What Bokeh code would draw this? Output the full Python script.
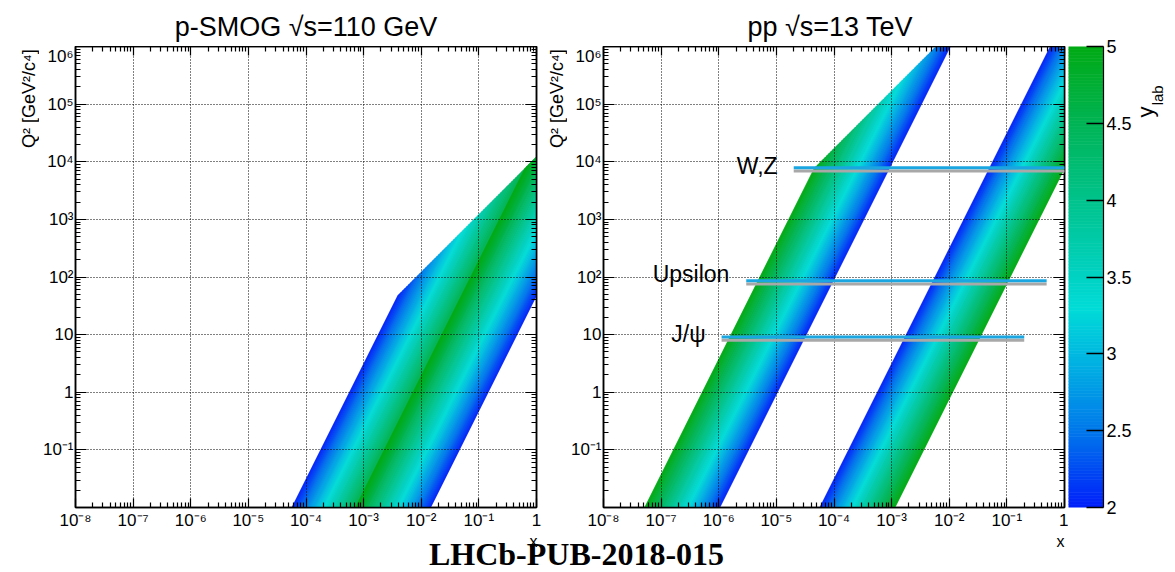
import numpy as np
from bokeh.plotting import figure
from bokeh.models import FixedTicker, LogAxis, Label, Range1d, ColumnDataSource
from bokeh.layouts import row, column
from bokeh.embed import file_html
from bokeh.resources import INLINE

# ---------------- data ----------------
panel_titles = ["p-SMOG \u221as=110 GeV", "pp  \u221as=13 TeV"]
sqrt_s_gev = [110.0, 13000.0]          # centre-of-mass energies
y_shift = [4.77, 0.0]                  # y_lab - y_cm (fixed target / collider)
y_lab_min, y_lab_max = 2.0, 5.0        # LHCb acceptance

x_major = [1e-8, 1e-7, 1e-6, 1e-5, 1e-4, 1e-3, 1e-2, 1e-1, 1.0]
x_labels = ["10\u207b\u2078", "10\u207b\u2077", "10\u207b\u2076", "10\u207b\u2075",
            "10\u207b\u2074", "10\u207b\u00b3", "10\u207b\u00b2", "10\u207b\u00b9", "1"]
q2_major = [1e-1, 1.0, 10.0, 1e2, 1e3, 1e4, 1e5, 1e6]
q2_labels = ["10\u207b\u00b9", "1", "10", "10\u00b2", "10\u00b3", "10\u2074", "10\u2075", "10\u2076"]

cbar_ticks = [2.0, 2.5, 3.0, 3.5, 4.0, 4.5, 5.0]
cbar_labels = ["2", "2.5", "3", "3.5", "4", "4.5", "5"]

res_names = ["J/\u03c8", "Upsilon", "W,Z"]
res_q2 = [9.1, 86.5, 7870.0]
res_x_min = [1.12e-6, 3.0e-6, 2.0e-5]
res_x_max = [0.2, 0.49, 1.0]
res_label_x = [5.9e-7, 1.53e-6, 1.05e-5]
res_label_q2 = [10.1, 111.0, 8510.0]

# colour palette stops (y_lab -> rgb)
stop_y = [2.0, 2.5, 3.0, 3.3, 3.5, 4.0, 4.5, 5.0]
stop_r = [0, 0, 0, 0, 0, 0, 0, 0]
stop_g = [30, 120, 185, 220, 210, 195, 180, 170]
stop_b = [250, 235, 225, 215, 195, 140, 85, 20]

FONT = "Liberation Sans"
ROW_H = 487
FULL_H = 533


def ycolor(v):
    r = int(round(np.interp(v, stop_y, stop_r)))
    g = int(round(np.interp(v, stop_y, stop_g)))
    b = int(round(np.interp(v, stop_y, stop_b)))
    return "#%02x%02x%02x" % (r, g, b)


def band_strips(sqrt_s, shift, sign, n=80):
    edges = np.linspace(y_lab_min, y_lab_max, n + 1)
    lnS = np.log(sqrt_s)
    lnMlo = 0.5 * np.log(1e-3)
    xs, ys, cs = [], [], []
    for a, b in zip(edges[:-1], edges[1:]):
        c0, c1 = a - shift, b - shift
        pts = [(c0, lnMlo), (c1, lnMlo), (c1, lnS - abs(c1))]
        if c0 < 0 < c1:
            pts.append((0.0, lnS))
        pts.append((c0, lnS - abs(c0)))
        xs.append([float(np.exp(m - lnS + sign * c)) for c, m in pts])
        ys.append([float(np.exp(2 * m)) for c, m in pts])
        cs.append(ycolor(0.5 * (a + b)))
    return xs, ys, cs


x_minor = [k * 10.0 ** e for e in range(-8, 0) for k in range(2, 10)]
q2_minor = [k * 10.0 ** e for e in range(-2, 6) for k in range(2, 10)]


def text_canvas(w, h):
    f = figure(width=w, height=h, x_range=Range1d(0, w), y_range=Range1d(0, h),
               min_border=0, toolbar_location=None, output_backend="svg",
               x_axis_location=None, y_axis_location=None)
    f.outline_line_color = None
    f.grid.visible = False
    return f


def style_axis(ax, tick_in):
    ax.axis_line_color = "black"
    ax.axis_line_width = 1.5
    ax.major_tick_in = tick_in
    ax.major_tick_out = 0
    ax.minor_tick_in = 5
    ax.minor_tick_out = 0
    ax.major_tick_line_color = "black"
    ax.minor_tick_line_color = "black"
    ax.major_tick_line_width = 1.2
    ax.minor_tick_line_width = 1.2
    ax.major_label_text_font = FONT
    ax.major_label_text_color = "black"
    ax.major_label_text_font_size = "17px"


def make_panel(i, width, border_left, border_right):
    p = figure(width=width, height=ROW_H, x_axis_type="log", y_axis_type="log",
               x_range=Range1d(1e-8, 1.0), y_range=Range1d(1e-2, 1e6),
               min_border_left=border_left, min_border_right=border_right,
               min_border_top=0, min_border_bottom=26,
               toolbar_location=None, output_backend="svg",
               background_fill_color="white", border_fill_color="white")
    p.outline_line_color = "black"
    p.outline_line_width = 1.5

    for sign in (+1, -1):
        xs, ys, cs = band_strips(sqrt_s_gev[i], y_shift[i], sign)
        src = ColumnDataSource(dict(xs=xs, ys=ys, c=cs))
        p.patches("xs", "ys", source=src, fill_color="c", line_color="c", line_width=0.7)

    xt = FixedTicker(ticks=x_major, minor_ticks=x_minor)
    yt = FixedTicker(ticks=q2_major, minor_ticks=q2_minor)

    xb = p.xaxis[0]
    yl = p.yaxis[0]
    xb.ticker = xt
    xb.major_label_overrides = {t: l for t, l in zip(x_major, x_labels)}
    yl.ticker = yt
    yl.major_label_overrides = {t: l for t, l in zip(q2_major, q2_labels)}
    style_axis(xb, 9)
    style_axis(yl, 11)
    xb.major_label_standoff = 3
    yl.major_label_standoff = 2

    top = LogAxis(ticker=xt, major_label_overrides={t: "" for t in x_major})
    right = LogAxis(ticker=yt, major_label_overrides={t: "" for t in q2_major})
    style_axis(top, 9)
    style_axis(right, 11)
    for ax in (top, right):
        ax.major_label_standoff = 0
        ax.major_label_text_font_size = "1px"
    p.add_layout(top, "above")
    p.add_layout(right, "right")

    p.xgrid.ticker = xt
    p.ygrid.ticker = yt
    p.grid.grid_line_color = "black"
    p.grid.grid_line_dash = "1 2"
    p.grid.grid_line_width = 1
    p.grid.level = "annotation"
    return p


def q2_label_canvas(w, xmid):
    f = text_canvas(w, ROW_H)
    f.add_layout(Label(x=xmid, y=ROW_H - 3, text="Q\u00b2 [GeV\u00b2/c\u2074]",
                       angle=np.pi / 2, text_align="right", text_baseline="middle",
                       text_font=FONT, text_font_size="18px", text_color="black"))
    return f


q1 = q2_label_canvas(39, 28.5)
p1 = make_panel(0, 506, 36, 9)
q2 = q2_label_canvas(22, 11.5)
p2 = make_panel(1, 501, 36, 4)

# resonance lines
shadow = 0.876
p2.segment(x0=res_x_min, y0=[q * shadow for q in res_q2], x1=res_x_max,
           y1=[q * shadow for q in res_q2], line_color="#a8a8a8", line_width=3, level="overlay")
p2.segment(x0=res_x_min, y0=res_q2, x1=res_x_max, y1=res_q2,
           line_color="#1aa6e0", line_width=3, level="overlay")
for name, lx, lq in zip(res_names, res_label_x, res_label_q2):
    p2.add_layout(Label(x=lx, y=lq, text=name, text_align="right", text_baseline="middle",
                        text_font=FONT, text_font_size="23px", text_color="black"))

# top strip with panel titles (above the two panels only)
pt = text_canvas(1068, 46)
for title, xc in zip(panel_titles, [305.5, 833.5]):
    pt.add_layout(Label(x=xc, y=20, text=title, text_align="center", text_baseline="middle",
                        text_font=FONT, text_font_size="27px", text_color="black"))

# colour bar panel
p3 = figure(width=66, height=FULL_H, x_range=Range1d(0, 1), y_range=Range1d(2, 5),
            min_border_left=0, min_border_right=30, min_border_top=46, min_border_bottom=26,
            toolbar_location=None, output_backend="svg", x_axis_location=None,
            y_axis_location="right")
p3.outline_line_color = None
p3.grid.visible = False
lev = np.linspace(y_lab_min, y_lab_max, 151)
lev_cols = [ycolor(0.5 * (a + b)) for a, b in zip(lev[:-1], lev[1:])]
p3.quad(left=0, right=1, bottom=lev[:-1], top=lev[1:],
        fill_color=lev_cols, line_color=lev_cols, line_width=0.7)
cax = p3.yaxis[0]
cax.ticker = FixedTicker(ticks=cbar_ticks, minor_ticks=[])
cax.major_label_overrides = {t: l for t, l in zip(cbar_ticks, cbar_labels)}
cax.major_tick_in = 17
cax.major_tick_out = 0
cax.major_tick_line_color = "black"
cax.major_tick_line_width = 1.5
cax.axis_line_color = "black"
cax.axis_line_width = 1.2
cax.major_label_text_font = FONT
cax.major_label_text_color = "black"
cax.major_label_text_font_size = "18px"
cax.major_label_standoff = 3

# y_lab title of the colour bar
py = text_canvas(41, FULL_H)
py.add_layout(Label(x=10.5, y=FULL_H - 82, text="y", angle=np.pi / 2, text_align="left",
                    text_baseline="middle", text_font=FONT, text_font_size="22px",
                    text_color="black"))
py.add_layout(Label(x=22.5, y=FULL_H - 68, text="lab", angle=np.pi / 2, text_align="left",
                    text_baseline="middle", text_font=FONT, text_font_size="15px",
                    text_color="black"))

# bottom strip with axis titles and document label
pb = text_canvas(1175, 39)
for xc in [533, 1060]:
    pb.add_layout(Label(x=xc, y=31.5, text="x", text_align="center", text_baseline="middle",
                        text_font=FONT, text_font_size="16px", text_color="black"))
pb.add_layout(Label(x=576, y=19, text="LHCb-PUB-2018-015", text_align="center",
                    text_baseline="middle", text_font="Liberation Serif",
                    text_font_style="bold", text_font_size="32px", text_color="black"))

panels = column(pt, row(q1, p1, q2, p2))
layout = column(row(panels, p3, py), pb)
open("out.html", "w").write(file_html(layout, INLINE))
